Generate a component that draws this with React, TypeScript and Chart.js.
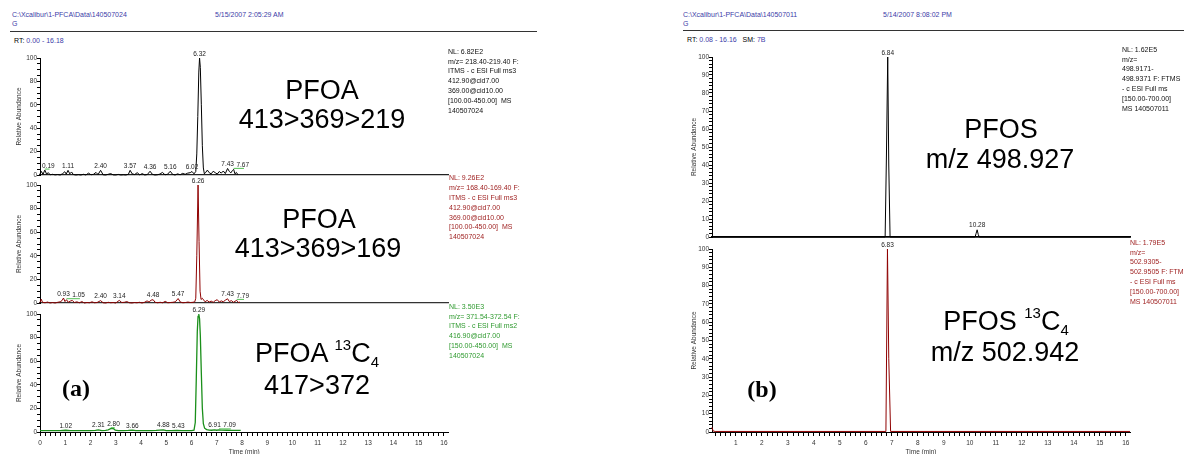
import React, { useEffect, useRef } from 'react';
import { Chart, registerables } from 'chart.js';
Chart.register(...registerables);

const FONT = '"Liberation Sans", Arial, Helvetica, sans-serif';
Chart.defaults.font.family = FONT;

// ---------- (a) PFOA 413>369>219 (black)
const pfoa219Times = [0.00,0.06,0.12,0.19,0.26,0.33,0.40,0.50,0.60,0.70,0.80,0.90,0.98,1.04,1.11,1.18,1.25,1.32,1.42,1.52,1.62,1.72,1.82,1.92,2.02,2.12,2.22,2.30,2.40,2.50,2.60,2.70,2.80,2.90,3.00,3.10,3.20,3.30,3.40,3.50,3.57,3.65,3.75,3.85,3.95,4.05,4.15,4.25,4.36,4.45,4.55,4.65,4.75,4.85,4.95,5.05,5.16,5.25,5.35,5.45,5.55,5.65,5.75,5.85,5.95,6.02,6.10,6.17,6.21,6.25,6.29,6.32,6.35,6.39,6.43,6.47,6.51,6.57,6.63,6.70,6.78,6.86,6.94,7.02,7.10,7.18,7.26,7.34,7.43,7.50,7.56,7.62,7.67,7.72,7.78,7.84];
const pfoa219Values = [1.0,3.0,0.5,4.2,0.8,2.0,0.2,0.6,0.1,0.4,0.0,1.2,2.8,0.8,4.0,1.0,2.6,0.4,0.0,0.3,0.0,0.6,0.0,1.6,0.2,0.6,2.2,0.4,4.0,0.2,0.0,0.6,1.2,0.1,0.0,0.5,0.0,0.2,0.0,0.6,4.0,1.0,0.4,2.0,0.1,1.2,0.0,0.4,3.2,0.6,0.0,0.2,0.8,2.2,0.2,0.6,3.2,0.6,0.0,1.0,0.2,1.4,0.6,1.6,2.0,3.0,1.0,3.0,18,50,88,100,92,60,25,6,1.0,2.4,4.2,2.0,1.0,3.2,2.0,0.8,3.0,1.6,3.4,1.2,5.6,3.0,1.8,3.8,4.8,1.0,2.2,0.2];
const pfoa219Labels = [0.19, 1.11, 2.40, 3.57, 4.36, 5.16, 6.02, 6.32, 7.43, 7.67];
const pfoa219Info = ['NL: 6.82E2', 'm/z= 218.40-219.40 F:', 'ITMS - c ESI Full ms3', '412.90@cid7.00', '369.00@cid10.00', '[100.00-450.00]  MS', '140507024'];

// ---------- (a) PFOA 413>369>169 (red)
const pfoa169Times = [0.00,0.05,0.10,0.20,0.30,0.40,0.50,0.60,0.70,0.80,0.87,0.93,0.99,1.05,1.12,1.20,1.28,1.36,1.46,1.56,1.66,1.76,1.86,1.96,2.06,2.16,2.26,2.40,2.50,2.60,2.70,2.80,2.90,3.00,3.14,3.24,3.34,3.44,3.54,3.64,3.74,3.84,3.94,4.04,4.14,4.24,4.32,4.40,4.48,4.56,4.66,4.76,4.86,4.96,5.06,5.16,5.26,5.36,5.47,5.56,5.66,5.76,5.86,5.96,6.06,6.13,6.17,6.21,6.26,6.30,6.34,6.38,6.43,6.48,6.54,6.62,6.70,6.78,6.86,6.94,7.02,7.10,7.18,7.26,7.34,7.43,7.50,7.58,7.66,7.72,7.79,7.86,7.92];
const pfoa169Values = [0.5,3.2,0.6,0.2,0.8,0.0,0.4,0.0,0.6,1.0,2.0,4.2,1.2,2.8,0.6,1.6,2.2,0.4,1.0,0.2,1.2,0.0,0.4,0.2,1.0,0.2,0.4,2.0,0.2,0.0,0.6,0.2,0.4,0.0,2.2,0.4,0.6,1.2,0.2,0.0,0.4,0.2,0.6,0.0,0.6,1.8,0.8,2.4,2.8,0.6,0.2,0.6,0.2,1.4,0.2,0.4,0.6,1.0,3.8,0.8,0.2,0.4,0.8,0.4,0.6,1.0,4,40,100,52,10,3.0,4.0,2.6,1.0,2.2,0.8,1.6,0.6,2.0,2.8,0.8,1.8,1.0,2.4,3.6,1.2,2.0,0.6,1.4,2.2,0.4,0.8];
const pfoa169Labels = [0.93, 1.05, 2.40, 3.14, 4.48, 5.47, 6.26, 7.43, 7.79];
const pfoa169Info = ['NL: 9.26E2', 'm/z= 168.40-169.40 F:', 'ITMS - c ESI Full ms3', '412.90@cid7.00', '369.00@cid10.00', '[100.00-450.00]  MS', '140507024'];

// ---------- (a) PFOA 13C4 417>372 (green)
const pfoaC13Times = [0.00,0.20,0.40,0.60,0.80,1.02,1.20,1.40,1.60,1.80,2.00,2.20,2.31,2.45,2.60,2.70,2.80,2.90,2.98,3.10,3.30,3.50,3.66,3.80,4.00,4.20,4.40,4.60,4.75,4.88,5.00,5.20,5.43,5.60,5.80,6.00,6.10,6.15,6.19,6.23,6.26,6.29,6.32,6.35,6.39,6.43,6.47,6.52,6.60,6.70,6.80,6.91,7.00,7.09,7.20,7.40,7.60,7.80,7.95];
const pfoaC13Values = [1.2,1.2,1.1,1.2,1.2,1.5,1.2,1.1,1.2,1.2,1.1,1.3,1.8,1.2,1.4,1.8,2.8,3.0,1.6,1.2,1.2,1.3,1.6,1.2,1.2,1.1,1.2,1.3,1.6,1.8,1.2,1.2,1.4,1.2,1.2,1.2,1.5,8,45,85,98,100,96,82,50,20,7,3.2,2.0,1.6,1.5,1.8,1.5,1.8,1.6,1.5,1.4,1.4,1.4];
const pfoaC13Labels = [1.02, 2.31, 2.80, 3.66, 4.88, 5.43, 6.29, 6.91, 7.09];
const pfoaC13Info = ['NL: 3.50E3', 'm/z= 371.54-372.54 F:', 'ITMS - c ESI Full ms2', '416.90@cid7.00', '[150.00-450.00]  MS', '140507024'];

// ---------- (b) PFOS m/z 498.927 (black)
const pfosTimes = [0.08,6.74,6.79,6.84,6.88,6.93,10.20,10.24,10.28,10.32,10.36,16.16];
const pfosValues = [0,0,45,100,40,0,0,2.0,4.0,1.5,0,0];
const pfosLabels = [6.84, 10.28];
const pfosInfo = ['NL: 1.62E5', 'm/z=', '498.9171-', '498.9371 F: FTMS', '- c ESI Full ms', '[150.00-700.00]', 'MS 140507011'];

// ---------- (b) PFOS 13C4 m/z 502.942 (red)
const pfosC13Times = [0.08,0.12,0.20,6.77,6.83,6.88,6.95,16.16];
const pfosC13Values = [2.6,0.6,0.3,0.3,100,40,0.3,0.3];
const pfosC13Labels = [6.83];
const pfosC13Info = ['NL: 1.79E5', 'm/z=', '502.9305-', '502.9505 F: FTMS', '- c ESI Full ms', '[150.00-700.00]', 'MS 140507011'];

const BLUE = '#3c3ca8';
const RED_LINE = '#8f0000';
const RED_TEXT = '#a02424';
const GREEN_LINE = '#1a8f1a';
const GREEN_TEXT = '#2f9a2f';
const LEADER = '#55c055';

const peakLabelPlugin = {
  id: 'peakLabels',
  afterDatasetsDraw(chart: any, _args: any, opts: any) {
    const labels: number[] = (opts && opts.labels) || [];
    if (!labels.length) return;
    const pts = chart.data.datasets[0].data as { x: number; y: number }[];
    const xs = chart.scales.x;
    const ys = chart.scales.y;
    const ctx = chart.ctx as CanvasRenderingContext2D;
    ctx.save();
    ctx.font = `6.5px ${FONT}`;
    ctx.textAlign = 'left';
    ctx.textBaseline = 'alphabetic';
    const items = labels
      .map((t) => {
        let best = pts[0];
        for (const p of pts) if (Math.abs(p.x - t) < Math.abs(best.x - t)) best = p;
        return { t, v: best.y };
      })
      .sort((a, b) => a.t - b.t);
    const placed: { l: number; r: number; y: number }[] = [];
    const gap = 2.5;
    for (const it of items) {
      const text = it.t.toFixed(2);
      const w = ctx.measureText(text).width;
      const px = xs.getPixelForValue(it.t);
      const py = ys.getPixelForValue(it.v);
      let l = px - w / 2;
      if (l < chart.chartArea.left + 2) l = chart.chartArea.left + 2;
      for (const b of placed) {
        if (Math.abs(b.y - py) < 7 && l < b.r + gap && l + w > b.l - gap) l = b.r + gap;
      }
      const cx = l + w / 2;
      ctx.fillStyle = '#222';
      ctx.fillText(text, l, py - 2.5);
      if (Math.abs(cx - px) > 2.5) {
        ctx.strokeStyle = LEADER;
        ctx.lineWidth = 1;
        ctx.beginPath();
        ctx.moveTo(px, py - 1);
        ctx.lineTo(cx + w * 0.1, py - 1);
        ctx.stroke();
      }
      placed.push({ l, r: l + w, y: py });
    }
    ctx.restore();
  },
};

type PanelSpec = {
  times: number[];
  values: number[];
  labels: number[];
  color: string;
  lineWidth: number;
  xMin: number;
  xMax: number;
  yStep: number;
  yMajor: number;
  left: number;
  top: number;
  width: number;
  height: number;
  yAxisWidth: number;
  bottomAxis: boolean;
  baseWidth: number;
  baseColor: string;
};

const TOP_PAD = 14;
const RIGHT_PAD = 10;

function ChartPanel({ spec }: { spec: PanelSpec }) {
  const ref = useRef<HTMLCanvasElement>(null);
  const xh = spec.bottomAxis ? 24 : 6;
  const w = Math.ceil(spec.yAxisWidth + spec.width + RIGHT_PAD);
  const h = TOP_PAD + spec.height + xh;
  const rightPad = w - spec.yAxisWidth - spec.width;
  useEffect(() => {
    const tickFont = { size: 6.5, family: FONT };
    const chart = new Chart(ref.current as HTMLCanvasElement, {
      type: 'scatter',
      data: {
        datasets: [
          {
            data: spec.times.map((t, i) => ({ x: t, y: spec.values[i] })),
            showLine: true,
            borderColor: spec.color,
            borderWidth: spec.lineWidth,
            pointRadius: 0,
            tension: 0,
            clip: false as any,
          },
        ],
      },
      options: {
        animation: false,
        responsive: false,
        maintainAspectRatio: false,
        events: [],
        layout: { padding: { left: 0, right: rightPad, top: TOP_PAD, bottom: 0 } },
        plugins: {
          legend: { display: false },
          tooltip: { enabled: false },
          peakLabels: { labels: spec.labels },
        } as any,
        scales: {
          x: {
            type: 'linear',
            min: spec.xMin,
            max: spec.xMax,
            afterFit: (s: any) => {
              s.height = xh;
            },
            grid: {
              display: spec.bottomAxis,
              drawOnChartArea: false,
              drawTicks: spec.bottomAxis,
              tickLength: 4,
              tickColor: '#000',
              tickWidth: 1,
            },
            border: { display: true, color: spec.baseColor, width: spec.baseWidth },
            ticks: {
              display: spec.bottomAxis,
              stepSize: 0.2,
              autoSkip: false,
              maxRotation: 0,
              includeBounds: false,
              padding: 3,
              color: '#333',
              font: tickFont,
              callback: (v: any) => {
                const r = Math.round(v);
                return Math.abs(v - r) < 1e-6 ? String(r) : '';
              },
            },
            title: {
              display: spec.bottomAxis,
              text: 'Time (min)',
              padding: 0,
              color: '#333',
              font: tickFont,
            },
          },
          y: {
            min: 0,
            max: 100,
            afterFit: (s: any) => {
              s.width = spec.yAxisWidth;
            },
            grid: { display: true, drawOnChartArea: false, tickLength: 3, tickColor: '#000', tickWidth: 1 },
            border: { display: true, color: '#000', width: 1 },
            ticks: {
              stepSize: spec.yStep,
              autoSkip: false,
              padding: 0,
              color: '#333',
              font: tickFont,
              callback: (v: any) => {
                const r = Math.round(v);
                return r % spec.yMajor === 0 ? String(r) : '';
              },
            },
            title: {
              display: true,
              text: 'Relative Abundance',
              padding: 0,
              color: '#333',
              font: tickFont,
            },
          },
        },
      },
      plugins: [peakLabelPlugin as any],
    } as any);
    return () => chart.destroy();
  }, []);
  return (
    <canvas
      ref={ref}
      width={w}
      height={h}
      style={{ position: 'absolute', left: spec.left - spec.yAxisWidth, top: spec.top - TOP_PAD, width: w, height: h }}
    />
  );
}

function Txt(props: {
  x: number;
  y: number;
  size: number;
  color?: string;
  center?: boolean;
  bold?: boolean;
  family?: string;
  children: React.ReactNode;
}) {
  const lh = props.size * 1.2;
  return (
    <div
      style={{
        position: 'absolute',
        left: props.x,
        top: props.y - lh / 2,
        fontSize: props.size,
        lineHeight: `${lh}px`,
        color: props.color || '#000',
        fontFamily: props.family || FONT,
        fontWeight: props.bold ? 'bold' : 'normal',
        whiteSpace: 'pre',
        transform: props.center ? 'translateX(-50%)' : undefined,
      }}
    >
      {props.children}
    </div>
  );
}

function InfoBlock({ lines, x, y, color }: { lines: string[]; x: number; y: number; color: string }) {
  return (
    <>
      {lines.map((s, i) => (
        <Txt key={i} x={x} y={y + i * 9.8} size={7} color={color}>
          {s}
        </Txt>
      ))}
    </>
  );
}

const Iso = ({ name }: { name: string }) => (
  <>
    {name}{' '}
    <span style={{ fontSize: 15, position: 'relative', top: -12 }}>13</span>C
    <span style={{ fontSize: 15, position: 'relative', top: 5 }}>4</span>
  </>
);

const leftX = { xMin: 0, xMax: 16.18, left: 40, width: 408.5, yAxisWidth: 25, yStep: 5, yMajor: 20 };
const rightX = { xMin: 0.08, xMax: 16.16, left: 712, width: 418, yAxisWidth: 22, yStep: 2, yMajor: 10 };

const panels: PanelSpec[] = [
  { ...leftX, times: pfoa219Times, values: pfoa219Values, labels: pfoa219Labels, color: '#000', lineWidth: 1, top: 58, height: 117, bottomAxis: false, baseWidth: 1.3, baseColor: '#222' },
  { ...leftX, times: pfoa169Times, values: pfoa169Values, labels: pfoa169Labels, color: RED_LINE, lineWidth: 1, top: 185, height: 118, bottomAxis: false, baseWidth: 1.3, baseColor: '#333' },
  { ...leftX, times: pfoaC13Times, values: pfoaC13Values, labels: pfoaC13Labels, color: GREEN_LINE, lineWidth: 1.3, top: 314, height: 118, bottomAxis: true, baseWidth: 1, baseColor: '#000' },
  { ...rightX, times: pfosTimes, values: pfosValues, labels: pfosLabels, color: '#000', lineWidth: 1, top: 57, height: 180, bottomAxis: false, baseWidth: 1.8, baseColor: '#000' },
  { ...rightX, times: pfosC13Times, values: pfosC13Values, labels: pfosC13Labels, color: RED_LINE, lineWidth: 1, top: 249, height: 183, bottomAxis: true, baseWidth: 1, baseColor: '#000' },
];

export default function App() {
  return (
    <div
      style={{
        position: 'absolute',
        left: 0,
        top: 0,
        width: 1184,
        height: 454,
        overflow: 'hidden',
        background: '#fff',
        fontFamily: FONT,
      }}
    >
      {/* headers */}
      <Txt x={12} y={15} size={7} color={BLUE}>{'C:\\Xcalibur\\1-PFCA\\Data\\140507024'}</Txt>
      <Txt x={215} y={15} size={7} color={BLUE}>5/15/2007 2:05:29 AM</Txt>
      <Txt x={12} y={24} size={7} color={BLUE}>G</Txt>
      <div style={{ position: 'absolute', left: 10, top: 31, width: 527, height: 1, background: '#333' }} />
      <Txt x={14} y={41} size={7}>
        RT: <span style={{ color: BLUE }}>0.00 - 16.18</span>
      </Txt>

      <Txt x={683} y={15} size={7} color={BLUE}>{'C:\\Xcalibur\\1-PFCA\\Data\\140507011'}</Txt>
      <Txt x={883} y={15} size={7} color={BLUE}>5/14/2007 8:08:02 PM</Txt>
      <Txt x={683} y={24} size={7} color={BLUE}>G</Txt>
      <div style={{ position: 'absolute', left: 683, top: 30, width: 501, height: 1, background: '#333' }} />
      <Txt x={687} y={40} size={7}>
        RT: <span style={{ color: BLUE }}>0.08 - 16.16</span>   SM: <span style={{ color: BLUE }}>7B</span>
      </Txt>

      {panels.map((p, i) => (
        <ChartPanel key={i} spec={p} />
      ))}

      {/* info blocks */}
      <InfoBlock lines={pfoa219Info} x={448} y={52} color="#111" />
      <InfoBlock lines={pfoa169Info} x={449} y={178.5} color={RED_TEXT} />
      <InfoBlock lines={pfoaC13Info} x={449} y={307} color={GREEN_TEXT} />
      <InfoBlock lines={pfosInfo} x={1122} y={50} color="#111" />
      <InfoBlock lines={pfosC13Info} x={1130} y={243} color={RED_TEXT} />

      {/* compound labels */}
      <Txt x={322} y={90} size={27} center>PFOA</Txt>
      <Txt x={322} y={119} size={27} center>413&gt;369&gt;219</Txt>
      <Txt x={319} y={219} size={27} center>PFOA</Txt>
      <Txt x={318} y={248} size={27} center>413&gt;369&gt;169</Txt>
      <Txt x={317} y={353} size={27} center><Iso name="PFOA" /></Txt>
      <Txt x={317} y={385} size={27} center>417&gt;372</Txt>
      <Txt x={76} y={388} size={24} bold center family='"Liberation Serif", "Times New Roman", serif'>(a)</Txt>

      <Txt x={1001} y={129} size={27} center>PFOS</Txt>
      <Txt x={1000} y={159} size={27} center>m/z 498.927</Txt>
      <Txt x={1006} y={321} size={27} center><Iso name="PFOS" /></Txt>
      <Txt x={1005} y={352} size={27} center>m/z 502.942</Txt>
      <Txt x={762} y={389} size={24} bold center family='"Liberation Serif", "Times New Roman", serif'>(b)</Txt>
    </div>
  );
}
